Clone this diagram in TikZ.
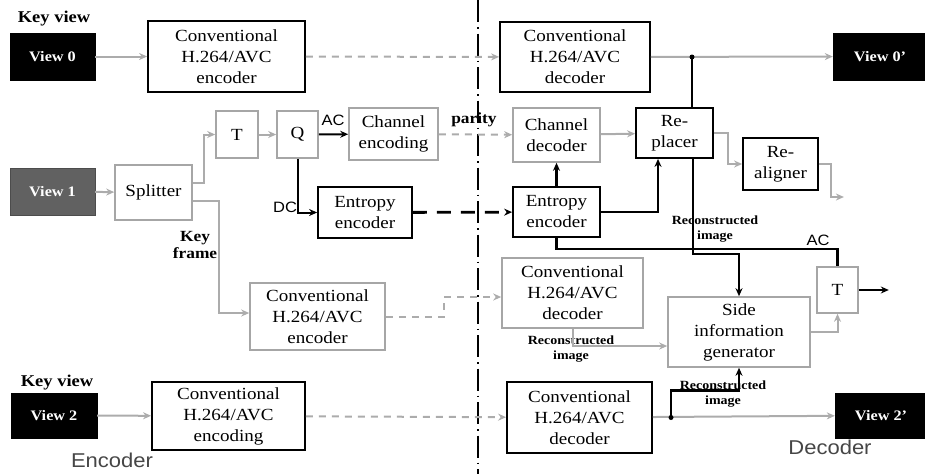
\documentclass[tikz,border=0pt]{standalone}
\usepackage{fontspec}
\setmainfont[FakeStretch=1.12]{Liberation Serif}
\newfontfamily\lsans[FakeStretch=1.1]{Liberation Sans}
\usetikzlibrary{arrows.meta}
\tikzset{
  boxtext/.style={align=center, inner sep=0pt, font=\fontsize{17}{21}\selectfont},
  bx/.style={boxtext, draw=black, line width=1.8pt},
  gx/.style={boxtext, draw=gray!70, line width=1.6pt},
  vx/.style={fill=black, draw=black, inner sep=0pt, text=white, font=\fontsize{14.5}{16}\selectfont\bfseries},
  lbl/.style={align=center, inner sep=0pt, font=\fontsize{15.5}{17}\selectfont\bfseries},
  small/.style={align=center, inner sep=0pt, font=\fontsize{12.5}{15.5}\selectfont\bfseries},
  sanslbl/.style={inner sep=0pt, font=\fontsize{15}{16}\lsans\selectfont},
  big/.style={inner sep=0pt, text=gray!55!black, font=\fontsize{20}{22}\lsans\selectfont},
  tip/.style={-{Stealth[length=8pt,width=7pt]}},
  garr/.style={tip, draw=gray!65, line width=2pt},
  gdash/.style={garr, dash pattern=on 7pt off 6pt},
  barr/.style={tip, draw=black, line width=2pt},
  bline/.style={draw=black, line width=2.4pt},
  bthick/.style={tip, draw=black, line width=2.8pt},
}
\begin{document}
\begin{tikzpicture}[x=1pt,y=-1pt]
\useasboundingbox (0,0) rectangle (925,474);
% divider
\draw[line width=2.2pt, dash pattern=on 22pt off 5pt on 1.5pt off 5pt] (478,0) -- (478,474);

% top row
\node[lbl, font=\fontsize{16.5}{18}\selectfont\bfseries] (kv0) at (54,19) {Key view};
\node[vx, minimum width=85, minimum height=47] (v0) at (52.5,56.5) {View 0};
\node[bx, minimum width=157, minimum height=71] (enc0) at (226.5,56.5) {Conventional\\H.264/AVC\\encoder};
\node[bx, minimum width=150, minimum height=70] (dec0) at (575,57) {Conventional\\H.264/AVC\\decoder};
\node[vx, minimum width=94, minimum height=47] (v0p) at (880,56.5) {View 0’};

% middle rows
\node[vx, fill=black!62, draw=black!70, minimum width=85, minimum height=47] (v1) at (52.5,191.5) {View 1};
\node[gx, minimum width=77, minimum height=55] (split) at (153.5,192.5) {Splitter};
\node[gx, minimum width=42, minimum height=47] (T) at (237,134.5) {T};
\node[gx, minimum width=41, minimum height=47] (Q) at (297.5,134.5) {Q};
\node[gx, minimum width=89, minimum height=52] (chenc) at (393.5,134) {Channel\\encoding};
\node[gx, minimum width=87, minimum height=54] (chdec) at (556.5,135) {Channel\\decoder};
\node[bx, minimum width=77, minimum height=50] (repl) at (674.5,133) {Re-\\placer};
\node[bx, minimum width=75, minimum height=52] (realign) at (780.5,164) {Re-\\aligner};
\node[bx, minimum width=94, minimum height=51] (entenc) at (365,212.5) {Entropy\\encoder};
\node[bx, minimum width=87, minimum height=50] (entdec) at (556.5,212) {Entropy\\encoder};
\node[gx, minimum width=135, minimum height=67] (midenc) at (317.5,316.5) {Conventional\\H.264/AVC\\encoder};
\node[gx, minimum width=141, minimum height=70] (middec) at (572.5,293) {Conventional\\H.264/AVC\\decoder};
\node[gx, minimum width=142, minimum height=70] (side) at (739,332) {Side\\information\\generator};
\node[gx, minimum width=41, minimum height=46] (Tr) at (837.5,290) {T};

% bottom row
\node[lbl, font=\fontsize{16.5}{18}\selectfont\bfseries] (kv2) at (57,383) {Key view};
\node[vx, minimum width=86, minimum height=45] (v2) at (54,415.5) {View 2};
\node[bx, minimum width=153, minimum height=68] (enc2) at (228.5,416) {Conventional\\H.264/AVC\\encoding};
\node[bx, minimum width=145, minimum height=71] (dec2) at (579.5,417.5) {Conventional\\H.264/AVC\\decoder};
\node[vx, minimum width=92, minimum height=45] (v2p) at (881,415.5) {View 2’};

% labels
\node[sanslbl] (acl) at (333,120) {AC};
\node[sanslbl] (dcl) at (285,207) {DC};
\node[lbl] (par) at (474,120) {parity};
\node[lbl] (kf) at (195,245) {Key\\frame};
\node[small] (rec1) at (715,229) {Reconstructed\\image};
\node[sanslbl] (acr) at (818,240) {AC};
\node[small] (rec2) at (571,349) {Reconstructed\\image};
\node[small] (rec3) at (723,394) {Reconstructed\\image};
\node[big] (encl) at (112,460) {Encoder};
\node[big] (decl) at (830,447) {Decoder};

% junctions
\coordinate (j0) at (692,57);
\coordinate (j2) at (671,417.5);

% top row connectors
\draw[garr] (v0) -- (enc0);
\draw[gdash] (enc0) -- (dec0);
\draw[garr] (dec0) -- (v0p);
\draw[bline] (j0) -- (j0 |- repl.north);
\fill (j0) circle (2.5pt);

% view 1 path
\draw[garr] (v1) -- (split);
\draw[garr] ([yshift=9.5pt]split.east) -- ++(11,0) |- (T.west);
\draw[garr] (T) -- (Q);
\draw[barr] (Q) -- (chenc);
\draw[barr] (Q.south) |- (entenc.west);
\draw[gdash] (chenc) -- (chdec);
\draw[bthick, dash pattern=on 14pt off 10pt] (entenc) -- (entdec);
\draw[bthick] (entdec) -- (chdec);
\draw[garr] (chdec) -- (repl);
\draw[barr] (entdec.east) -| ([xshift=-16.5pt]repl.south);
\draw[garr] (repl.east) -- ++(14,0) |- (realign.west);
\draw[garr] (realign.east) -- ++(12,0) -- ++(0,33) -- ++(13,0) coordinate (rout);
\draw[bline] (entdec.south) -- ++(0,11) -| (Tr.north);
\draw[bthick] ([xshift=18.5pt]repl.south) -- ++(0,95) -| (side.north);
\draw[garr] (side.east) -| (Tr.south);
\draw[barr] (Tr.east) -- ++(30,0) coordinate (tout);

% key frame path
\draw[garr] ([yshift=-8pt]split.east) -- ++(26,0) |- ([yshift=3.5pt]midenc.west);
\draw[gdash] (midenc.east) -- ++(58,0) |- ([yshift=-4pt]middec.west);
\draw[garr] (middec.south) |- ([yshift=-14pt]side.west);

% bottom row connectors
\draw[garr] (v2) -- (enc2);
\draw[gdash] (enc2) -- (dec2);
\draw[garr] (dec2) -- (v2p);
\draw[bthick] (j2) -- ++(0,-27) -| (side.south);
\fill (j2) circle (2.5pt);
\end{tikzpicture}
\end{document}
